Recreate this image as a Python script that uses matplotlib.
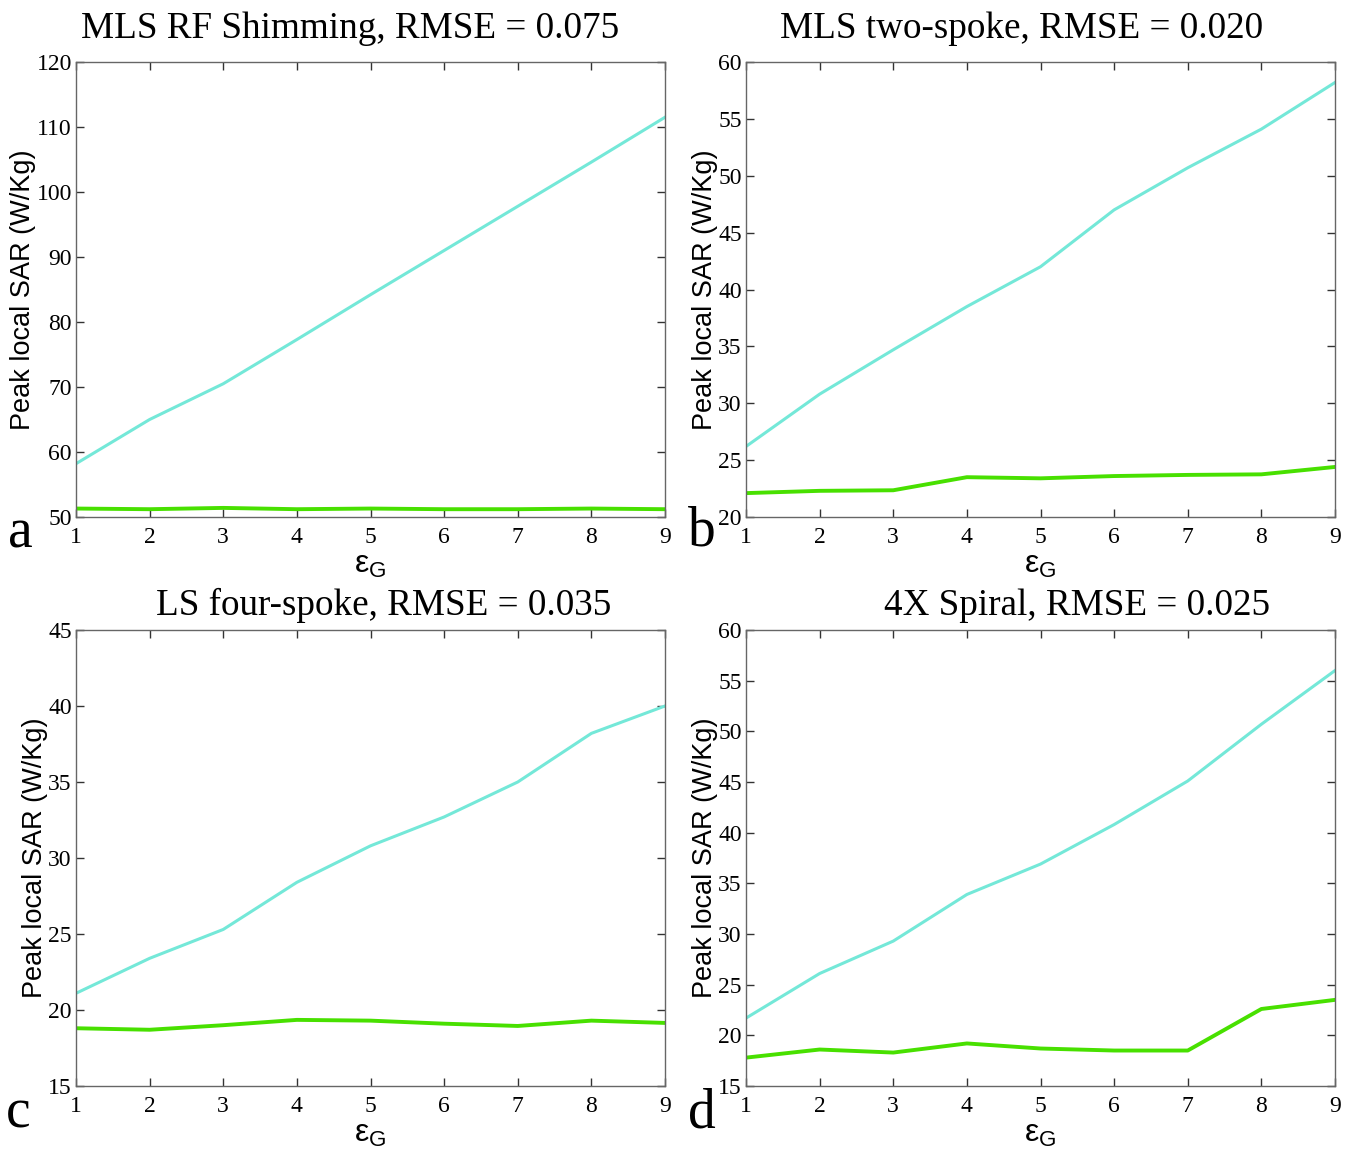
import matplotlib.pyplot as plt

plt.rcParams["mathtext.fontset"] = "custom"
plt.rcParams["mathtext.rm"] = "Liberation Sans"

eps_g = [1, 2, 3, 4, 5, 6, 7, 8, 9]

titles = ["MLS RF Shimming, RMSE = 0.075", "MLS two-spoke, RMSE = 0.020",
          "LS four-spoke, RMSE = 0.035", "4X Spiral, RMSE = 0.025"]
letters = ["a", "b", "c", "d"]

# cyan curve (upper) and green curve (lower) per panel
cyan_a = [58.2, 65.0, 70.5, 77.3, 84.2, 91.0, 97.8, 104.6, 111.5]
green_a = [51.3, 51.2, 51.4, 51.2, 51.3, 51.2, 51.2, 51.3, 51.2]
cyan_b = [26.2, 30.8, 34.7, 38.5, 42.0, 47.0, 50.7, 54.1, 58.2]
green_b = [22.1, 22.3, 22.35, 23.5, 23.4, 23.6, 23.7, 23.75, 24.4]
cyan_c = [21.1, 23.4, 25.3, 28.4, 30.8, 32.7, 35.0, 38.2, 40.0]
green_c = [18.8, 18.7, 19.0, 19.35, 19.3, 19.1, 18.95, 19.3, 19.15]
cyan_d = [21.7, 26.1, 29.3, 33.9, 36.9, 40.8, 45.1, 50.7, 56.0]
green_d = [17.8, 18.6, 18.3, 19.2, 18.7, 18.5, 18.5, 22.6, 23.5]

cyan = [cyan_a, cyan_b, cyan_c, cyan_d]
green = [green_a, green_b, green_c, green_d]

ylims = [(50, 120), (20, 60), (15, 45), (15, 60)]
ysteps = [10, 5, 5, 5]

serif = "Liberation Serif"
sans = "Liberation Sans"

fig = plt.figure(figsize=(13.53, 11.55), dpi=100)

W, H = 1353, 1155
boxes = [(76, 62, 665, 517), (746, 62, 1335, 517),
         (76, 630, 665, 1086), (746, 630, 1335, 1086)]
title_pads = [17, 17, 11, 11]
title_cx = [350, 1022, 384, 1077]
# letter right edge x and baseline y, in pixels from top-left
letter_pos = [(33, 548), (716, 545), (31, 1127), (716, 1127)]

for i in range(4):
    x0, y0, x1, y1 = boxes[i]
    ax = fig.add_axes([x0 / W, 1 - y1 / H, (x1 - x0) / W, (y1 - y0) / H])
    ax.plot(eps_g, cyan[i], color="#74e8d8", lw=2.2)
    ax.plot(eps_g, green[i], color="#48e000", lw=2.8)
    ax.set_xlim(1, 9)
    ax.set_ylim(*ylims[i])
    ax.set_xticks(eps_g)
    lo, hi = ylims[i]
    ax.set_yticks(list(range(lo, hi + 1, ysteps[i])))
    ax.tick_params(direction="in", top=True, right=True, length=6,
                   width=1, color="#333333", labelsize=17)
    ax.tick_params(axis="y", pad=3)
    ax.tick_params(axis="x", pad=7)
    for lab in ax.get_xticklabels() + ax.get_yticklabels():
        lab.set_fontfamily(serif)
    for s in ax.spines.values():
        s.set_color("#666666")
        s.set_linewidth(1)
    ax.set_title(titles[i], fontfamily=serif, fontsize=26.7, pad=title_pads[i],
                 x=(title_cx[i] - x0) / (x1 - x0))
    ax.set_ylabel("Peak local SAR (W/Kg)", fontfamily=sans, fontsize=19.5, labelpad=0)
    ax.set_xlabel(r"$\mathrm{ε}_{\mathrm{G}}$", fontsize=23, labelpad=1)
    lx, ly = letter_pos[i]
    fig.text(lx / W, 1 - ly / H, letters[i], fontfamily=serif, fontsize=40,
             ha="right", va="baseline")

fig.savefig("out.png", dpi=100)
